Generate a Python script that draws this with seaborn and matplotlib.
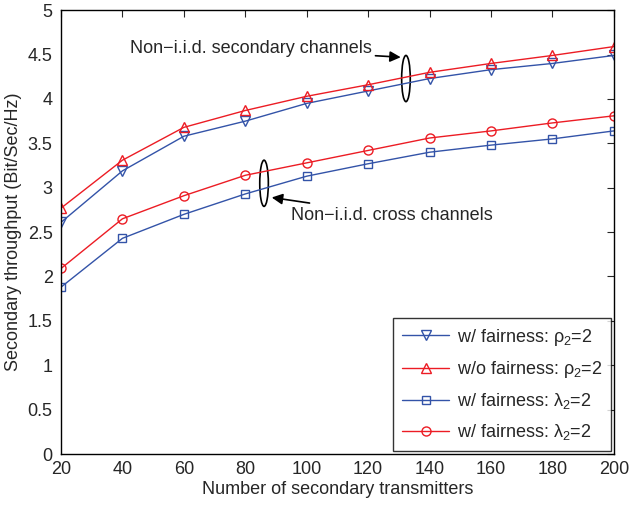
import matplotlib
matplotlib.use("Agg")
import matplotlib.pyplot as plt
import seaborn as sns
import pandas as pd
from matplotlib.patches import Ellipse

sns.set_style("white")
plt.rcParams["font.family"] = ["Liberation Sans", "DejaVu Sans"]
plt.rcParams["mathtext.fontset"] = "custom"
plt.rcParams["mathtext.rm"] = "Liberation Sans"
plt.rcParams["mathtext.it"] = "Liberation Sans"

# data
n_tx = [20, 40, 60, 80, 100, 120, 140, 160, 180, 200]
fair_rho = [2.61, 3.19, 3.58, 3.75, 3.95, 4.09, 4.23, 4.33, 4.40, 4.49]
nofair_rho = [2.77, 3.31, 3.68, 3.87, 4.03, 4.16, 4.30, 4.40, 4.49, 4.59]
fair_lam = [1.88, 2.43, 2.70, 2.93, 3.13, 3.27, 3.40, 3.48, 3.55, 3.64]
nofair_lam = [2.09, 2.65, 2.91, 3.14, 3.28, 3.42, 3.56, 3.64, 3.73, 3.81]

labels = ["w/ fairness: ρ$_2$=2", "w/o fairness: ρ$_2$=2",
          "w/ fairness: λ$_2$=2", "w/ fairness: λ$_2$=2"]

BLUE = "#3353A8"
RED = "#EC1C24"

series = [
    (fair_rho, labels[0], BLUE, "v", 7),
    (nofair_rho, labels[1], RED, "^", 7),
    (fair_lam, labels[2], BLUE, "s", 5.5),
    (nofair_lam, labels[3], RED, "o", 6.5),
]

fig = plt.figure(figsize=(6.29, 5.09), dpi=100)
ax = fig.add_axes([0.097, 0.108, 0.879, 0.872])

for vals, lab, col, mk, ms in series:
    df = pd.DataFrame({"x": n_tx, "y": vals})
    sns.lineplot(data=df, x="x", y="y", ax=ax, color=col, marker=mk, markersize=ms,
                 markerfacecolor="none", markeredgecolor=col, markeredgewidth=1.0,
                 linewidth=1.0, label=lab)

ax.set_xlim(20, 200)
ax.set_ylim(0, 5)
ax.set_xticks(range(20, 201, 20))
ax.set_yticks([0, 0.5, 1, 1.5, 2, 2.5, 3, 3.5, 4, 4.5, 5])
ax.set_yticklabels(["0", "0.5", "1", "1.5", "2", "2.5", "3", "3.5", "4", "4.5", "5"])
ax.set_xlabel("Number of secondary transmitters", fontsize=13, labelpad=2)
ax.set_ylabel("Secondary throughput (Bit/Sec/Hz)", fontsize=13, labelpad=4)
ax.tick_params(direction="in", top=True, right=True, length=5, labelsize=13, width=0.8)
ax.tick_params(axis="x", pad=5)
ax.tick_params(axis="y", pad=6)
for sp in ax.spines.values():
    sp.set_color("black")
    sp.set_linewidth(1.0)

# annotations
ax.add_patch(Ellipse((132.3, 4.23), 2.8, 0.52, fill=False, edgecolor="black", lw=1.2))
ax.annotate("Non\u2212i.i.d. secondary channels", xy=(130.6, 4.47), xytext=(121.3, 4.57),
            ha="right", va="center", fontsize=13,
            arrowprops=dict(arrowstyle="-|>", color="black", lw=1.2, mutation_scale=16,
                            shrinkA=0, shrinkB=0))
ax.add_patch(Ellipse((86.1, 3.05), 2.8, 0.52, fill=False, edgecolor="black", lw=1.2))
ax.annotate("Non\u2212i.i.d. cross channels", xy=(88.6, 2.89), xytext=(95.0, 2.69),
            ha="left", va="center", fontsize=13,
            arrowprops=dict(arrowstyle="-|>", color="black", lw=1.2, mutation_scale=16,
                            shrinkA=2, shrinkB=0))

leg = ax.legend(loc="lower right", fontsize=13, frameon=True, fancybox=False,
                edgecolor="black", handlelength=2.6, handletextpad=0.4,
                borderaxespad=0.15, labelspacing=0.62, borderpad=0.5)
leg.get_frame().set_linewidth(1.0)

fig.savefig("out.png", dpi=100)
